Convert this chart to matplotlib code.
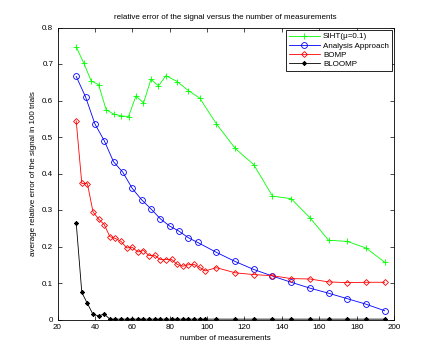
import matplotlib
matplotlib.use("Agg")
import matplotlib.pyplot as plt

plt.rcParams['font.family'] = ['Liberation Sans', 'DejaVu Sans']

# ---- data ----
x_siht = [30, 34, 38, 42, 46, 50, 54, 58, 62, 66, 70, 74, 78, 84, 90, 96,
          105, 115, 125, 135, 145, 155, 165, 175, 185, 195]
y_siht = [0.747, 0.703, 0.654, 0.643, 0.575, 0.563, 0.558, 0.556, 0.613, 0.593,
          0.658, 0.640, 0.668, 0.652, 0.627, 0.607,
          0.536, 0.469, 0.424, 0.338, 0.331, 0.279, 0.217, 0.214, 0.196, 0.157]

x_analysis = [30, 35, 40, 45, 50, 55, 60, 65, 70, 75, 80, 85, 90, 95,
              105, 115, 125, 135, 145, 155, 165, 175, 185, 195]
y_analysis = [0.666, 0.610, 0.536, 0.490, 0.432, 0.403, 0.359, 0.328, 0.303, 0.276,
              0.256, 0.242, 0.224, 0.211,
              0.184, 0.159, 0.137, 0.119, 0.102, 0.086, 0.072, 0.057, 0.042, 0.024]

x_bomp = [30, 33, 36, 39, 42, 45, 48, 51, 54, 57, 60, 63, 66, 69, 72, 75, 78, 81,
          84, 87, 90, 93, 96, 99, 105, 115, 125, 135, 145, 155, 165, 175, 185, 195]
y_bomp = [0.544, 0.373, 0.372, 0.295, 0.275, 0.260, 0.227, 0.222, 0.214, 0.196,
          0.198, 0.185, 0.189, 0.175, 0.176, 0.164, 0.164, 0.165, 0.151, 0.146,
          0.150, 0.151, 0.143, 0.133, 0.142, 0.128, 0.123, 0.120, 0.112, 0.111,
          0.103, 0.101, 0.102, 0.102]

x_bloomp = x_bomp
y_bloomp = [0.265, 0.074, 0.044, 0.014, 0.010, 0.015] + [0.001] * 28

legend_labels = ['SIHT(\u03bc=0.1)', 'Analysis Approach', 'BOMP', 'BLOOMP']
x_ticks = [20, 40, 60, 80, 100, 120, 140, 160, 180, 200]
y_ticks = [0, 0.1, 0.2, 0.3, 0.4, 0.5, 0.6, 0.7, 0.8]
y_tick_labels = ['0', '0.1', '0.2', '0.3', '0.4', '0.5', '0.6', '0.7', '0.8']

# ---- figure ----
fig = plt.figure(figsize=(4.36, 3.59), dpi=100)
ax = fig.add_axes([57.5 / 436, 1 - 319.5 / 359, (394 - 57.5) / 436, (319.5 - 27.5) / 359])

fs = 5.8
lw = 0.6
ax.plot(x_siht, y_siht, color=(0, 1, 0), lw=lw, marker='+', ms=4.5, mew=0.6,
        label=legend_labels[0])
ax.plot(x_analysis, y_analysis, color=(0, 0, 1), lw=lw, marker='o', ms=4.2,
        mfc='none', mew=0.6, label=legend_labels[1])
ax.plot(x_bomp, y_bomp, color=(1, 0, 0), lw=lw, marker='D', ms=3.0,
        mfc='none', mew=0.6, label=legend_labels[2])
ax.plot(x_bloomp, y_bloomp, color='black', lw=lw, marker=(8, 2, 0), ms=3.2,
        mew=0.6, label=legend_labels[3])

ax.set_xlim(20, 200)
ax.set_ylim(0, 0.8)
ax.set_xticks(x_ticks)
ax.set_xticklabels([str(t) for t in x_ticks])
ax.set_yticks(y_ticks)
ax.set_yticklabels(y_tick_labels)
ax.tick_params(direction='in', top=True, right=True, length=3, width=0.5,
               labelsize=fs, pad=3)
for s in ax.spines.values():
    s.set_linewidth(0.6)

ax.set_title('relative error of the signal versus the number of measurements',
             fontsize=fs, pad=6)
ax.set_xlabel('number of measurements', fontsize=fs, labelpad=3)
ax.set_ylabel('average relative error of the signal in 100 trials', fontsize=fs,
              labelpad=4)

leg = ax.legend(loc='upper right', fontsize=fs, frameon=True, fancybox=False,
                edgecolor='black', framealpha=1, borderpad=0.35, labelspacing=0.2,
                handlelength=3.8, handletextpad=0.4, borderaxespad=0.3)
leg.get_frame().set_linewidth(0.6)

fig.savefig('out.png', dpi=100, facecolor='white')
